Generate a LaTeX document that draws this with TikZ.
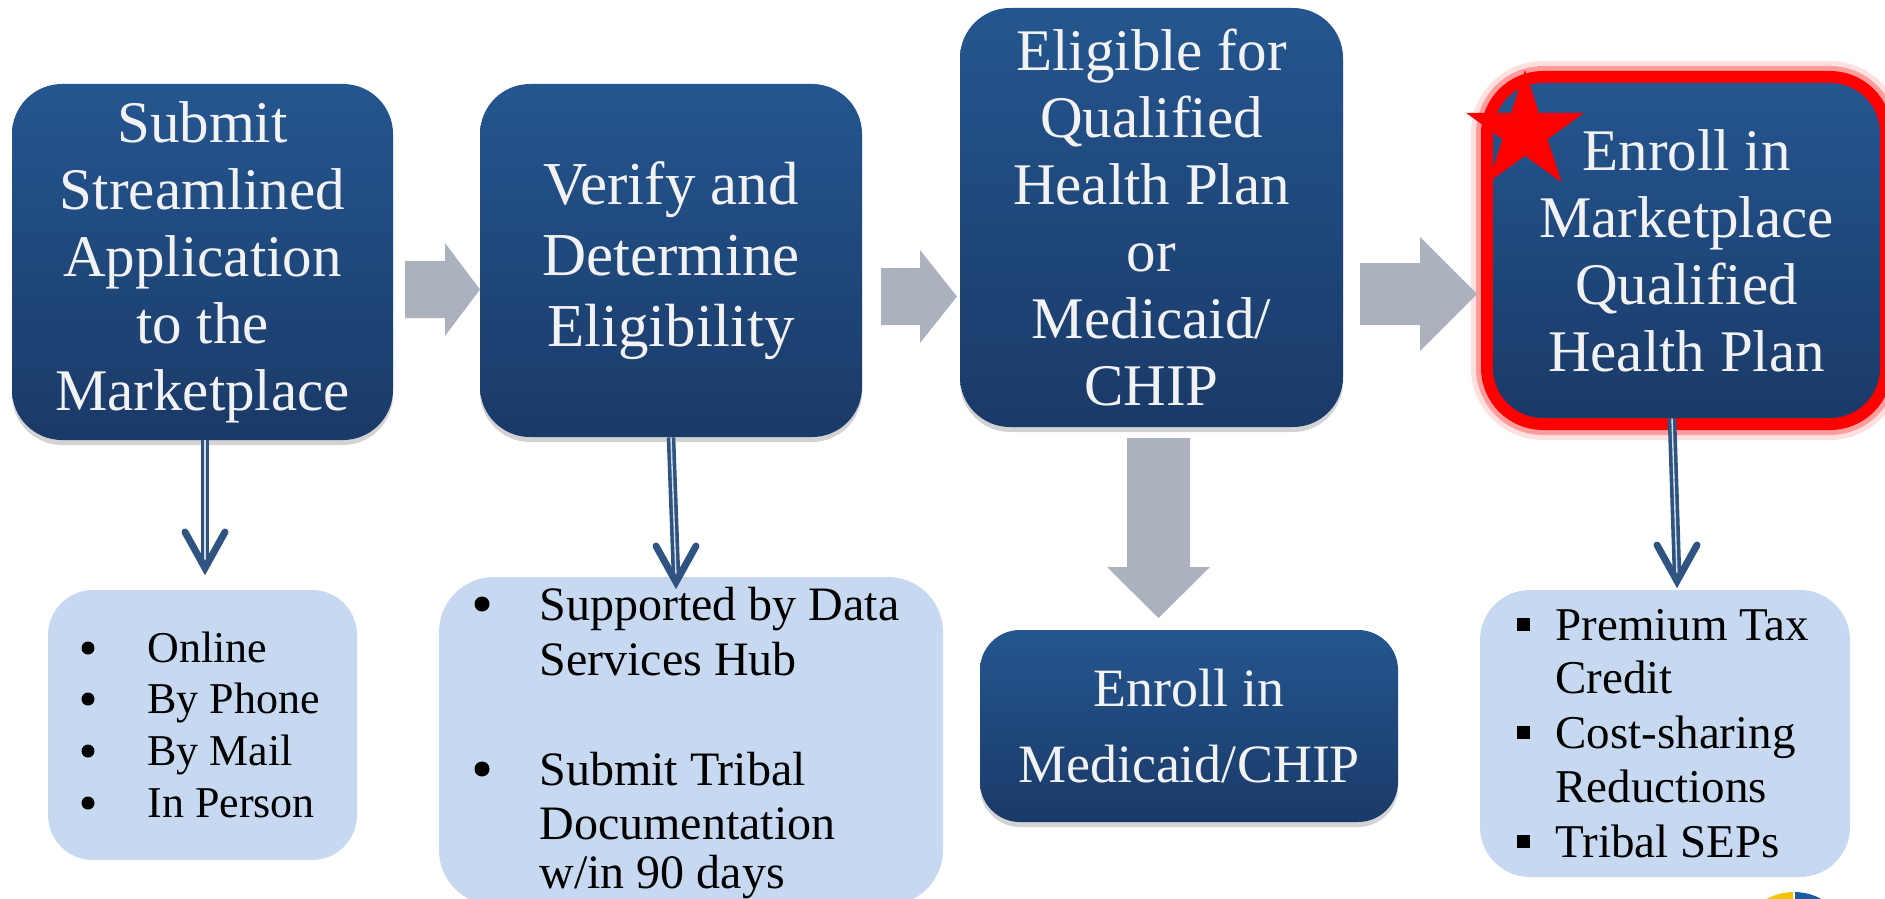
\documentclass[tikz,border=0pt]{standalone}
\usepackage{fontspec}
\setmainfont{Liberation Serif}
\usetikzlibrary{shapes.geometric,shadows,calc}
\definecolor{boxtop}{RGB}{36,86,143}
\definecolor{boxbot}{RGB}{26,58,104}
\definecolor{txtw}{RGB}{242,242,242}
\definecolor{grayarr}{RGB}{172,178,189}
\definecolor{lightbox}{RGB}{198,217,240}
\definecolor{arrblue}{RGB}{47,84,130}
\definecolor{logoy}{RGB}{245,196,0}
\definecolor{logob}{RGB}{26,91,166}
\tikzset{
  darkbox/.style={top color=boxtop, bottom color=boxbot, text=txtw, align=center, inner sep=0pt},
  bigbox/.style={darkbox, drop shadow={opacity=0.35, shadow xshift=0pt, shadow yshift=-2.5pt}},
  listbox/.style={fill=lightbox, inner sep=0pt},
  grayarrow/.style={fill=grayarr},
  blueshaft/.style={draw=arrblue, line width=1.8pt, double=white!80!arrblue, double distance=0.7pt},
  bluehead/.style={draw=arrblue, line width=3.5pt, line cap=round, line join=miter},
  listtext/.style={anchor=base west, inner sep=0pt, text=black},
  dotbullet/.style={circle, fill=black, inner sep=0pt, minimum size=6.5pt},
  sqbullet/.style={rectangle, fill=black, inner sep=0pt, minimum size=6.5pt},
  bigfont/.style={font=\fontsize{29.5pt}{33.5pt}\selectfont},
}
\begin{document}
\begin{tikzpicture}[x=0.5pt,y=-0.5pt]
\useasboundingbox (0,0) rectangle (1885,899);
\clip (0,0) rectangle (1885,899);

% top row boxes
\node[bigbox, bigfont, rounded corners=25pt, minimum width=190.5pt, minimum height=178pt] (b1) at (202.5,262)
  {Submit\\Streamlined\\Application\\to the\\Marketplace};
\node[bigbox, font=\fontsize{30.5pt}{35.5pt}\selectfont, rounded corners=25pt, minimum width=191pt, minimum height=176.5pt] (b2) at (671,260.5)
  {Verify and\\Determine\\Eligibility};
\node[bigbox, bigfont, rounded corners=25pt, minimum width=191.5pt, minimum height=209.5pt] (b3) at (1151.5,217.5)
  {Eligible for\\Qualified\\Health Plan\\or\\Medicaid/\\CHIP};
\node[darkbox, bigfont, rounded corners=25pt, minimum width=193.5pt, minimum height=167.5pt,
  preaction={draw=red, draw opacity=0.12, line width=22pt},
  preaction={draw=red, draw opacity=0.3, line width=17pt},
  preaction={draw=red, line width=12pt}] (b4) at (1686.5,250.5)
  {Enroll in\\Marketplace\\Qualified\\Health Plan};
\node[star, star points=5, star point ratio=2.618, fill=red, minimum size=62pt, inner sep=0pt] (star) at (1525,132) {};

\node[bigbox, font=\fontsize{27pt}{38pt}\selectfont, rounded corners=20pt, minimum width=209pt, minimum height=96pt] (b5) at (1189,726)
  {Enroll in\\Medicaid/CHIP};

% light boxes
\node[listbox, rounded corners=22.5pt, minimum width=154.5pt, minimum height=135pt] (lb1) at (202.5,725) {};
\node[listbox, rounded corners=27.5pt, minimum width=252pt, minimum height=164pt] (lb2) at (691,741) {};
\node[listbox, rounded corners=25pt, minimum width=185pt, minimum height=143.5pt] (lb3) at (1665,733.5) {};

% list 1
\begin{scope}[font=\fontsize{22pt}{26pt}\selectfont]
\node[dotbullet] (d11) at (88,648) {};
\node[dotbullet] (d12) at (88,699) {};
\node[dotbullet] (d13) at (88,751) {};
\node[dotbullet] (d14) at (88,803) {};
\node[listtext] (l11) at (147,662) {Online};
\node[listtext] (l12) at (147,713) {By Phone};
\node[listtext] (l13) at (147,765) {By Mail};
\node[listtext] (l14) at (147,817) {In Person};
\end{scope}

% list 2
\begin{scope}[font=\fontsize{24pt}{28pt}\selectfont]
\node[dotbullet, minimum size=7.5pt] (d21) at (482,604) {};
\node[dotbullet, minimum size=7.5pt] (d22) at (482,769) {};
\node[listtext] (l21) at (539,620) {Supported by Data};
\node[listtext] (l22) at (539,675) {Services Hub};
\node[listtext] (l23) at (539,785) {Submit Tribal};
\node[listtext] (l24) at (539,839) {Documentation};
\node[listtext] (l25) at (539,888) {w/in 90 days};
\end{scope}

% list 3
\begin{scope}[font=\fontsize{23.5pt}{27pt}\selectfont]
\node[sqbullet] (d31) at (1523,624) {};
\node[sqbullet] (d32) at (1523,732) {};
\node[sqbullet] (d33) at (1523,841) {};
\node[listtext] (l31) at (1555,640) {Premium Tax};
\node[listtext] (l32) at (1555,693) {Credit};
\node[listtext] (l33) at (1555,748) {Cost-sharing};
\node[listtext] (l34) at (1555,802) {Reductions};
\node[listtext] (l35) at (1555,857) {Tribal SEPs};
\end{scope}

% gray block arrows
\fill[grayarrow] (405,261) -- (445,261) -- (445,243) -- (480,289.5) -- (445,336) -- (445,318) -- (405,318) -- cycle;
\fill[grayarrow] (881,268) -- (920,268) -- (920,250) -- (957,296.5) -- (920,343) -- (920,325) -- (881,325) -- cycle;
\fill[grayarrow] (1360,263) -- (1420,263) -- (1420,237) -- (1477,294) -- (1420,351) -- (1420,325) -- (1360,325) -- cycle;
\fill[grayarrow] (1127,438) -- (1190,438) -- (1190,567) -- (1210,567) -- (1158.5,618) -- (1107,567) -- (1127,567) -- cycle;

% blue down arrows
\coordinate (t1) at (205,568);
\coordinate (t2) at (676,582);
\coordinate (t3) at (1677,581);
\draw[blueshaft] ([xshift=1.25pt]b1.south) -- ($(t1)+(0,-6)$);
\draw[bluehead] ($(t1)+(-20,-36)$) -- (t1) -- ($(t1)+(20,-36)$);
\draw[blueshaft] (b2.south) -- ($(t2)+(0,-6)$);
\draw[bluehead] ($(t2)+(-20,-36)$) -- (t2) -- ($(t2)+(20,-36)$);
\draw[blueshaft] ([xshift=-7.25pt]b4.south) -- ($(t3)+(0,-6)$);
\draw[bluehead] ($(t3)+(-20,-36)$) -- (t3) -- ($(t3)+(20,-36)$);

% partial logo
\begin{scope}
\clip (1730,880) rectangle (1793,1010);
\fill[logoy] (1794,949.5) circle[radius=57.5];
\end{scope}
\begin{scope}
\clip (1795,880) rectangle (1860,1010);
\fill[logob] (1794,949.5) circle[radius=57.5];
\end{scope}
\end{tikzpicture}
\end{document}
